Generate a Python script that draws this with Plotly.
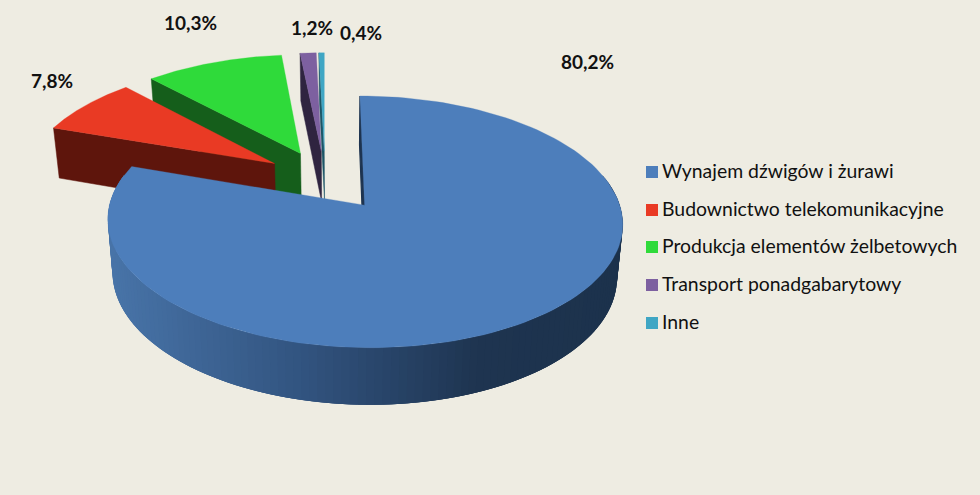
import numpy as np
import plotly.graph_objects as go

# udzialy w przychodach
categories = ['Wynajem dźwigów i żurawi', 'Budownictwo telekomunikacyjne',
              'Produkcja elementów żelbetowych', 'Transport ponadgabarytowy', 'Inne']
values = [80.2, 7.8, 10.3, 1.2, 0.4]
top_colors = ['#4D7EBB', '#E93A24', '#2FDA3A', '#7D60A0', '#3FA6C4']
wall_colors = ['#1E3450', '#5E150C', '#155E1B', '#2F2440', '#1C5566']

FONT = 'Lato'
BG = '#EEECE2'
PULL = [0.265, 0.245, 0.245, 0.245, 0.245]
RADIUS = [0.992, 1, 1, 1, 1]


def project(u, v):
    # disc coordinates -> page pixels, with some perspective
    w = 1 + 0.13 * v
    return 325 + 250 * u / w, (179 - 94.5 * v) / w


def drop(x, y):
    # same point on the lower face of the disc
    return 340 + (x - 340) * 0.98, y + 46 + 0.032 * y


def polygon(x, y, color, width=0.0):
    return go.Scatter(x=list(x), y=list(y), mode='lines', fill='toself', fillcolor=color,
                      line=dict(color=color, width=width), hoverinfo='skip', showlegend=False)


def side_color(x):
    r = np.interp(x, [110, 300, 480, 620], [72, 50, 30, 28])
    g = np.interp(x, [110, 300, 480, 620], [116, 84, 52, 50])
    b = np.interp(x, [110, 300, 480, 620], [168, 128, 80, 76])
    return f'rgb({r:.0f},{g:.0f},{b:.0f})'


shares = np.array(values) / sum(values) * 2 * np.pi
ends = np.cumsum(shares)
starts = ends - shares
mids = (starts + ends) / 2

traces = []
# back slices first, the big one goes on top of them
for i in [4, 3, 2, 1, 0]:
    u0 = PULL[i] * np.sin(mids[i])
    v0 = PULL[i] * np.cos(mids[i])
    r = RADIUS[i]
    t = np.linspace(starts[i], ends[i], 150)
    ax, ay = project(u0 + r * np.sin(t), v0 + r * np.cos(t))
    tx, ty = project(u0, v0)

    # cut wall on the starting edge
    bx0, by0 = drop(tx, ty)
    bx1, by1 = drop(ax[0], ay[0])
    traces.append(polygon([tx, ax[0], bx1, bx0, tx], [ty, ay[0], by1, by0, ty],
                          wall_colors[i], 1.2 if i == 0 else 0.5))

    # rim, only the front of the big slice shows
    # each band overlaps the next one so no seams show
    if i == 0:
        a = np.linspace(np.pi * 0.42, np.pi * 1.58, 130)
        rx, ry = project(u0 + r * np.sin(a), v0 + r * np.cos(a))
        lx, ly = drop(rx, ry)
        for k in range(len(a) - 1):
            e = min(k + 3, len(a) - 1)
            traces.append(polygon(np.r_[rx[k:e + 1], lx[k:e + 1][::-1], rx[k]],
                                  np.r_[ry[k:e + 1], ly[k:e + 1][::-1], ry[k]],
                                  side_color((rx[k] + rx[k + 1]) / 2)))

    traces.append(polygon(np.r_[tx, ax, tx], np.r_[ty, ay, ty], top_colors[i], 0.3))

fig = go.Figure(traces)

# legend drawn by hand so the text sits close to the swatch
legend_y = [172, 210, 247, 285, 323]
fig.add_trace(go.Scatter(x=[652] * 5, y=legend_y, mode='markers', hoverinfo='skip', showlegend=False,
                         marker=dict(symbol='square', size=12, color=top_colors)))
fig.add_trace(go.Scatter(x=[662] * 5, y=[y + 1 for y in legend_y], mode='text', text=categories,
                         textposition='middle right', hoverinfo='skip', showlegend=False,
                         textfont=dict(family=FONT, size=19.4, color='#111111')))

label_x = [587, 52, 190, 312, 361]
label_y = [61, 80, 22, 27, 32]
for val, lx, ly in zip(values, label_x, label_y):
    fig.add_annotation(x=lx, y=ly, text=f'{val:.1f}%'.replace('.', ','), showarrow=False,
                       font=dict(family=FONT, size=19, color='#111111', weight='bold'))

fig.update_xaxes(range=[0, 980], visible=False, fixedrange=True)
fig.update_yaxes(range=[495, 0], visible=False, fixedrange=True)
fig.update_layout(width=980, height=495, margin=dict(l=0, r=0, t=0, b=0),
                  paper_bgcolor=BG, plot_bgcolor=BG, showlegend=False)

# page body has a default margin, drop it so the chart fills the window
fig.write_html("out.html", config={'displayModeBar': False},
               post_script="document.body.style.margin='0';document.body.style.overflow='hidden';")
